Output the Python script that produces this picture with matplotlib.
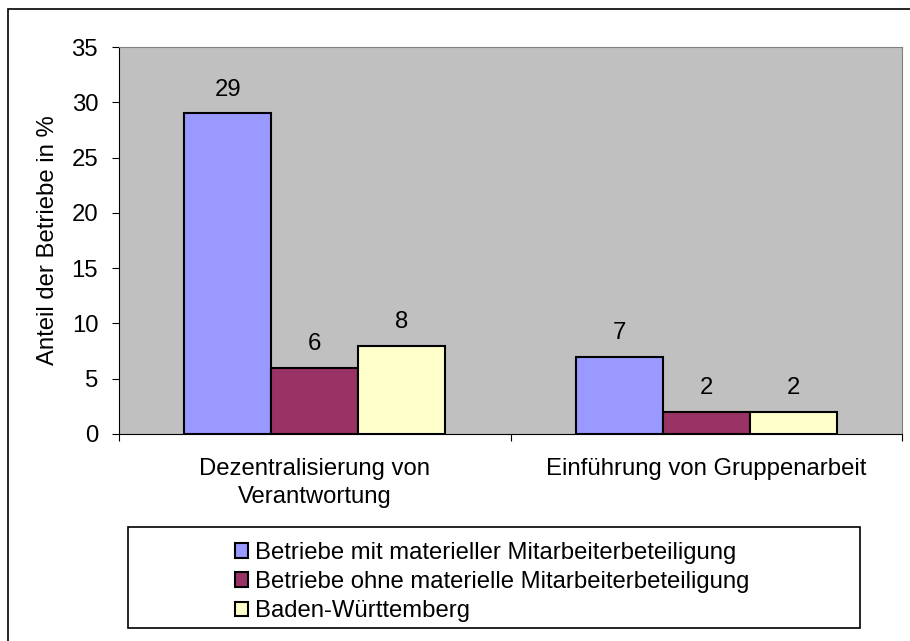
import matplotlib.pyplot as plt
import matplotlib.patches as mpatches
import numpy as np

plt.rcParams['font.family'] = ['Liberation Sans', 'DejaVu Sans']

# data
categories = ["Dezentralisierung von\nVerantwortung", "Einführung von Gruppenarbeit"]
series_names = ["Betriebe mit materieller Mitarbeiterbeteiligung",
                "Betriebe ohne materielle Mitarbeiterbeteiligung",
                "Baden-Württemberg"]
mit_beteiligung = [29, 7]
ohne_beteiligung = [6, 2]
baden_wuerttemberg = [8, 2]
colors = ["#9999FF", "#993366", "#FFFFCC"]

FS = 17.2
W, H = 910, 641
fig = plt.figure(figsize=(W / 100, H / 100), dpi=100)
fig.patch.set_facecolor("white")

# outer frame
fig.add_artist(mpatches.Rectangle((8 / W, -0.1), 1.2, 1 - 9 / H + 0.1,
                                  transform=fig.transFigure, fill=False,
                                  edgecolor="black", linewidth=1.2))

left, right, top, bottom = 119, 902, 47, 434
ax = fig.add_axes([left / W, 1 - bottom / H, (right - left) / W, (bottom - top) / H])
ax.set_facecolor("#C0C0C0")

x = np.arange(len(categories))
width = 0.222
series = [mit_beteiligung, ohne_beteiligung, baden_wuerttemberg]
for i, (vals, name, c) in enumerate(zip(series, series_names, colors)):
    bars = ax.bar(x + (i - 1) * width, vals, width, color=c, edgecolor="black",
                  linewidth=1.5, label=name, zorder=3)
    for b, v in zip(bars, vals):
        ax.annotate(str(v), (b.get_x() + b.get_width() / 2, v),
                    xytext=(0, 17), textcoords="offset points",
                    ha="center", va="center", fontsize=FS)

ax.set_xlim(-0.5, 1.5)
ax.set_ylim(0, 35)
ax.set_yticks(np.arange(0, 36, 5))
ax.tick_params(axis="y", labelsize=FS, length=5, pad=10, direction="out")
ax.set_xticks([-0.5, 0.5, 1.5])
ax.set_xticklabels([])
ax.set_xticks(x, minor=True)
ax.set_xticklabels(categories, minor=True, fontsize=FS, linespacing=1.35)
ax.tick_params(axis="x", which="minor", length=0, pad=17)
ax.tick_params(axis="x", which="major", length=5, direction="out")

ax.spines["top"].set_color("#808080")
ax.spines["right"].set_color("#808080")
ax.spines["left"].set_color("black")
ax.spines["bottom"].set_color("black")

ax.set_ylabel("Anteil der Betriebe in %", fontsize=FS, labelpad=9)

# legend box
fig.add_artist(mpatches.Rectangle((128 / W, 1 - 628 / H), 732 / W, 101 / H,
                                  transform=fig.transFigure, facecolor="white",
                                  edgecolor="black", linewidth=1.2))
handles, labels = ax.get_legend_handles_labels()
leg = fig.legend(handles, labels, loc="upper left",
                 bbox_to_anchor=(223 / W, 1 - 530 / H), frameon=False,
                 fontsize=FS, handlelength=0.55, handleheight=0.55,
                 handletextpad=0.3, labelspacing=0.3, borderpad=0)

plt.savefig("out.png", dpi=100)
